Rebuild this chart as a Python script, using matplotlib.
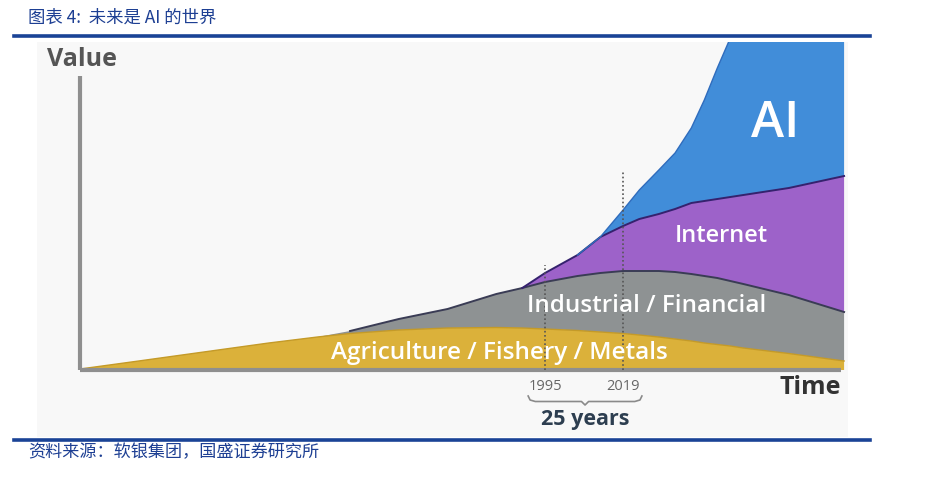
import numpy as np
import matplotlib.pyplot as plt
from matplotlib.lines import Line2D

plt.rcParams['font.family'] = ['Open Sans', 'Noto Sans CJK SC', 'DejaVu Sans']

# time axis (years) and stacked layer thickness (value units)
years = [1852, 1870, 1890, 1910, 1925, 1935, 1950, 1965, 1980, 1988, 1995, 2005,
         2012, 2019, 2024, 2030, 2035, 2040, 2044, 2048, 2052, 2056, 2070, 2087]
agriculture = [1, 9, 18, 27, 33, 36.5, 40, 42, 42.5, 42, 41, 39.5,
               38, 36.5, 35, 33, 31, 29, 27, 25.5, 24, 22, 16.5, 9]
industrial = [0, 0, 0, 0, 0, 2.5, 11, 19, 33.5, 40, 47, 54.5,
              59, 62.5, 64, 66, 67, 67, 67, 66.5, 65, 64, 58.5, 49]
internet = [0, 0, 0, 0, 0, 0, 0, 0, 0, 0, 9, 21,
            36, 45, 52, 57, 63, 71, 75, 79, 84, 89, 107, 136]
ai = [0, 0, 0, 0, 0, 0, 0, 0, 0, 0, 0, 0,
      0, 16, 29, 44, 56, 75, 101, 131, 159, 195, 338, 576]

layer_names = ['Agriculture / Fishery / Metals', 'Industrial / Financial', 'Internet', 'AI']
layer_colors = ['#dbb13a', '#8e9293', '#9d62c9', '#418dd9']
marked_years = [1995, 2019]

title = '图表 4:  未来是 AI 的世界'
source = '资料来源：软银集团，国盛证券研究所'
navy = '#1d3f93'

fig = plt.figure(figsize=(9.5, 4.86), dpi=100)
W, H = 950, 486

# blue rules of the report page
fig.add_artist(Line2D([14 / W, 870 / W], [1 - 36 / H, 1 - 36 / H], color='#1a4396', lw=2.6))
fig.add_artist(Line2D([14 / W, 870 / W], [1 - 440 / H, 1 - 440 / H], color='#1a4396', lw=2.6))
fig.text(28 / W, 1 - 18 / H, title, color=navy, fontsize=12.5, style='italic',
         va='center', ha='left', family=['Noto Sans CJK SC', 'DejaVu Sans'])
fig.text(28 / W, 1 - 452 / H, source, color=navy, fontsize=12.3, style='italic',
         va='center', ha='left', family=['Noto Sans CJK SC', 'DejaVu Sans'])

ax = fig.add_axes([37 / W, (H - 437) / H, 811 / W, 395 / H])
ax.set_facecolor('#f8f8f8')
for s in ax.spines.values():
    s.set_visible(False)
ax.set_xticks([])
ax.set_yticks([])
ax.set_xlim(1838.7, 2088.2)
ax.set_ylim(-67, 328)

x = np.array(years)
layers = np.array([agriculture, industrial, internet, ai], dtype=float)
ax.stackplot(x, layers, colors=layer_colors, linewidth=0)
tops = np.cumsum(layers, axis=0)
ax.plot(x, tops[0], color='#c49a28', lw=1.0)
ax.plot(x[5:], tops[1][5:], color='#3a3c55', lw=1.4)
ax.plot(x[9:], tops[2][9:], color='#35226e', lw=1.4)
ax.plot(x[11:], tops[3][11:], color='#2f6cbd', lw=1.0)

# axes of the drawing
ax.plot([1852, 1852], [0, 294], color='#8f8f8f', lw=3, solid_capstyle='butt')
ax.plot([1852, 2086], [0, 0], color='#8f8f8f', lw=3, solid_capstyle='butt')

# dotted markers for 1995 and 2019
ax.plot([marked_years[0]] * 2, [0, 105], color='#555555', lw=1.2, ls=(0, (1, 1.5)))
ax.plot([marked_years[1]] * 2, [0, 198], color='#555555', lw=1.2, ls=(0, (1, 1.5)))
for yr in marked_years:
    ax.text(yr, -16, str(yr), ha='center', va='center', fontsize=10.5, color='#666666')

# brace under the two years
bx = [1989.8, 1990.4, 1992.0, 2006.2, 2007.3, 2008.4, 2022.6, 2024.2, 2024.8]
by = [-26, -30, -31.5, -31.5, -35, -31.5, -31.5, -30, -26]
ax.plot(bx, by, color='#8a8a8a', lw=1.2)
ax.text(2007.3, -49, '25 years', ha='center', va='center', fontsize=15.5,
        fontweight='bold', color='#2d3e50')

ax.text(1852.5, 310, 'Value', ha='center', va='center', fontsize=18,
        fontweight='bold', color='#555555')
ax.text(2076.5, -17, 'Time', ha='center', va='center', fontsize=18,
        fontweight='bold', color='#333333')

ax.text(1980.8, 17, layer_names[0], ha='center', va='center', fontsize=17.5,
        fontweight='semibold', color='white')
ax.text(2026.1, 64, layer_names[1], ha='center', va='center', fontsize=17.5,
        fontweight='semibold', color='white')
ax.text(2049.2, 134, layer_names[2], ha='center', va='center', fontsize=17,
        fontweight='semibold', color='white')
ax.text(2065.8, 246, layer_names[3], ha='center', va='center', fontsize=36,
        fontweight='semibold', color='white')

fig.savefig('out.png', dpi=100, facecolor='white')
